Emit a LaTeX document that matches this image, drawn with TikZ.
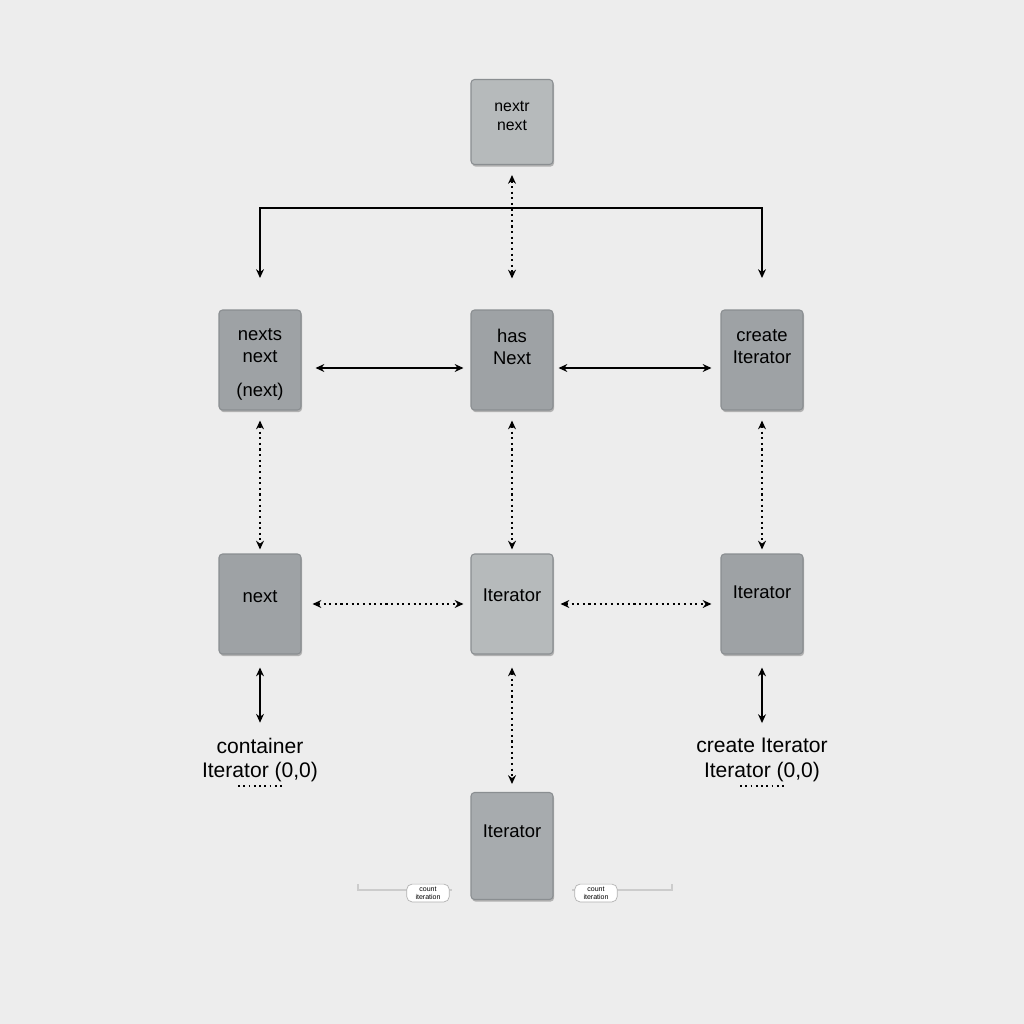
\documentclass[tikz,border=0pt]{standalone}
\usepackage{fontspec}
\setmainfont{Liberation Sans}
\usetikzlibrary{arrows.meta,shadows}
\definecolor{bg}{HTML}{EDEDED}
\definecolor{boxdark}{HTML}{9EA2A5}
\definecolor{boxlight}{HTML}{B6BABB}
\definecolor{boxmid}{HTML}{A7ABAE}
\definecolor{edgeg}{HTML}{8A8E91}
\begin{document}
\begin{tikzpicture}[x=0.02cm,y=-0.02cm,
  blk/.style={draw=edgeg, line width=0.6pt, rounded corners=2pt, minimum width=1.64cm, minimum height=2cm, inner sep=0pt,
    drop shadow={shadow xshift=0.6pt, shadow yshift=-1.2pt, opacity=0.25, fill=black}},
  dk/.style={blk, fill=boxdark},
  lt/.style={blk, fill=boxlight},
  md/.style={blk, fill=boxmid},
  btxt/.style={align=center, inner sep=0pt, font=\fontsize{10.5}{12.5}\selectfont, text=black},
  link/.style={line width=0.8pt, {Stealth[length=5pt,width=4.5pt]}-{Stealth[length=5pt,width=4.5pt]}},
  dlink/.style={link, dash pattern=on 1.2pt off 2pt},
  lab/.style={align=center, font=\fontsize{12}{14}\selectfont},
  pill/.style={draw=gray!60, fill=white, rounded corners=3pt, font=\fontsize{4}{4.5}\selectfont, align=center, inner sep=1.5pt, minimum width=0.85cm}
]
\fill[bg] (0,0) rectangle (1024,1024);
\useasboundingbox (0,0) rectangle (1024,1024);

\node[lt, minimum height=1.7cm] (top) at (512,122) {};
\node[dk] (n1) at (260,360) {};
\node[dk] (n2) at (512,360) {};
\node[dk] (n3) at (762,360) {};
\node[dk] (m1) at (260,604) {};
\node[lt] (m2) at (512,604) {};
\node[dk] (m3) at (762,604) {};
\node[md, minimum height=2.14cm] (b) at (512,846) {};

\node[btxt, font=\fontsize{9}{11}\selectfont] (topt) at (512,116) {nextr\\next};
\node[btxt] (n1t) at (260,346) {nexts\\next};
\node[btxt] (n1u) at (260,392) {(next)};
\node[btxt] (n2t) at (512,347) {has\\Next};
\node[btxt] (n3t) at (762,347) {create\\Iterator};
\node[btxt] (m1t) at (260,597) {next};
\node[btxt] (m2t) at (512,595) {Iterator};
\node[btxt] (m3t) at (762,592) {Iterator};
\node[btxt] (bt) at (512,831) {Iterator};

% top tree
\coordinate (tl) at (260,208);
\coordinate (tr) at (762,208);
\draw[line width=0.8pt, -{Stealth[length=5pt,width=4.5pt]}] (512,208) -- (tl) -- (n1.north |- 0,278);
\draw[line width=0.8pt, -{Stealth[length=5pt,width=4.5pt]}] (512,208) -- (tr) -- (n3.north |- 0,278);
\draw[dlink] ([yshift=-0.2cm]top.south) -- ([yshift=0.62cm]n2.north);

% row 2 horizontals
\draw[link] ([xshift=0.28cm,yshift=-0.16cm]n1.east) -- ([xshift=-0.14cm,yshift=-0.16cm]n2.west);
\draw[link] ([xshift=0.1cm,yshift=-0.16cm]n2.east) -- ([xshift=-0.18cm,yshift=-0.16cm]n3.west);

% verticals row2-row3
\foreach \a/\bb in {n1/m1, n2/m2, n3/m3}
  \draw[dlink] ([yshift=-0.2cm]\a.south) -- ([yshift=0.08cm]\bb.north);

% row 3 horizontals
\draw[dlink] ([xshift=0.22cm]m1.east) -- ([xshift=-0.14cm]m2.west);
\draw[dlink] ([xshift=0.14cm]m2.east) -- ([xshift=-0.18cm]m3.west);

% labels
\node[lab] (l1) at (260,760) {container\\Iterator (0,0)};
\node[lab] (l3) at (762,760) {create Iterator\\Iterator (0,0)};
\draw[dash pattern=on 1pt off 2pt, line width=0.6pt] (238,786) -- (284,786);
\draw[dash pattern=on 1pt off 2pt, line width=0.6pt] (740,786) -- (786,786);

\draw[link] ([yshift=-0.26cm]m1.south) -- ([yshift=0.18cm]l1.north);
\draw[link] ([yshift=-0.26cm]m3.south) -- ([yshift=0.18cm]l3.north);
\draw[dlink] ([yshift=-0.26cm]m2.south) -- ([yshift=0.16cm]b.north);

% bottom widgets
\draw[gray!40, line width=0.6pt] (358,884) -- (358,890) -- (452,890);
\draw[gray!40, line width=0.6pt] (672,884) -- (672,890) -- (572,890);
\node[pill] (p1) at (428,893) {count\\iteration};
\node[pill] (p2) at (596,893) {count\\iteration};
\end{tikzpicture}
\end{document}
